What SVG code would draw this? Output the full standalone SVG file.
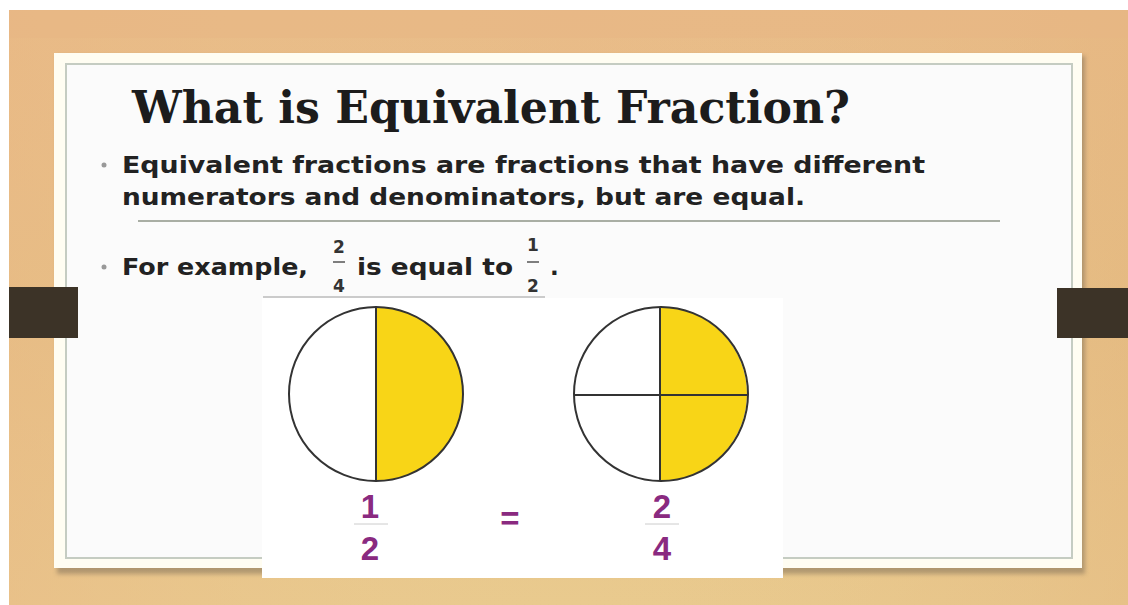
<svg xmlns="http://www.w3.org/2000/svg" width="1128" height="605" viewBox="0 0 1128 605">
<defs>
<linearGradient id="wood" x1="0" y1="0" x2="0" y2="1">
<stop offset="0" stop-color="#e9bb88"/>
<stop offset="0.5" stop-color="#e6c086"/>
<stop offset="1" stop-color="#e9ca8e"/>
</linearGradient>
<linearGradient id="woodH" x1="0" y1="0" x2="1" y2="0">
<stop offset="0" stop-color="#e9b884" stop-opacity="0.5"/>
<stop offset="0.5" stop-color="#e8c890" stop-opacity="0"/>
<stop offset="1" stop-color="#e3b37c" stop-opacity="0.4"/>
</linearGradient>
<filter id="sh" x="-5%" y="-5%" width="110%" height="110%">
<feGaussianBlur stdDeviation="2"/>
</filter>
<style>
.title{font-family:"DejaVu Serif","Liberation Serif",serif;font-weight:bold;font-size:45px;fill:#1c1c1c}
.body{font-family:"DejaVu Sans","Verdana",sans-serif;font-weight:bold;font-size:23px;fill:#222}
.frac{font-family:"DejaVu Sans",sans-serif;font-weight:bold;font-size:17px;fill:#333}
.big{font-family:"Liberation Sans",Arial,sans-serif;font-weight:bold;font-size:33px;fill:#8a2a80}
.rule{stroke:#a9aea4;stroke-width:2}
.circ{stroke:#333;stroke-width:2;fill:none}
.div{stroke:#333;stroke-width:2}
.yel{fill:#f8d517}
.bar{fill:#3c3327}
</style>
</defs>
<rect x="0" y="0" width="1128" height="605" fill="#ffffff"/>
<g id="background">
<rect x="9" y="10" width="1119" height="595" fill="url(#wood)"/>
<rect x="9" y="10" width="1119" height="595" fill="url(#woodH)"/>
<rect x="9" y="10" width="1119" height="28" fill="#e8b584" opacity="0.5"/>
</g>
<g id="board">
<rect x="57" y="56" width="1028" height="518" fill="#7a6a55" opacity="0.5" filter="url(#sh)"/>
<rect x="54" y="53" width="1028" height="515" fill="#fffdf2"/>
<rect x="66" y="64" width="1006" height="494" fill="#fbfbfb" stroke="#c5ccc2" stroke-width="2"/>
</g>
<g id="bars">
<rect class="bar" x="9" y="287" width="69" height="51"/>
<rect class="bar" x="1057" y="288" width="71" height="50"/>
</g>
<g id="title">
<text class="title" x="132" y="123" textLength="718" lengthAdjust="spacingAndGlyphs">What is Equivalent Fraction?</text>
</g>
<g id="bullet1">
<circle cx="104" cy="165" r="2.5" fill="#999"/>
<text class="body" x="122" y="173" textLength="803" lengthAdjust="spacingAndGlyphs">Equivalent fractions are fractions that have different</text>
<text class="body" x="122" y="205" textLength="683" lengthAdjust="spacingAndGlyphs">numerators and denominators, but are equal.</text>
<line class="rule" x1="138" y1="221" x2="1000" y2="221"/>
</g>
<g id="bullet2">
<circle cx="104" cy="267" r="2.5" fill="#999"/>
<text class="body" x="122" y="275" textLength="186" lengthAdjust="spacingAndGlyphs">For example,</text>
<text class="frac" x="339" y="253" text-anchor="middle">2</text>
<line x1="333" y1="262" x2="345" y2="262" stroke="#555" stroke-width="1.5"/>
<text class="frac" x="339" y="292" text-anchor="middle">4</text>
<text class="body" x="357" y="275" textLength="156" lengthAdjust="spacingAndGlyphs">is equal to</text>
<text class="frac" x="533" y="251" text-anchor="middle">1</text>
<line x1="527" y1="262" x2="539" y2="262" stroke="#555" stroke-width="1.5"/>
<text class="frac" x="533" y="292" text-anchor="middle">2</text>
<text class="body" x="550" y="275">.</text>
<line x1="263" y1="297" x2="545" y2="297" stroke="#bbb" stroke-width="1.5"/>
</g>
<g id="picture">
<rect x="262" y="298" width="521" height="280" fill="#ffffff"/>
</g>
<g id="circle-half">
<path class="yel" d="M376 307 A87 87 0 0 1 376 481 Z"/>
<circle class="circ" cx="376" cy="394" r="87"/>
<line class="div" x1="376" y1="307" x2="376" y2="481"/>
</g>
<g id="circle-quarters">
<path class="yel" d="M660 307 A87 87 0 0 1 660 481 Z"/>
<circle class="circ" cx="661" cy="394" r="87"/>
<line class="div" x1="660" y1="307" x2="660" y2="481"/>
<line class="div" x1="574" y1="395" x2="748" y2="395"/>
</g>
<g id="equation">
<text class="big" x="370" y="518" text-anchor="middle">1</text>
<line x1="354" y1="524" x2="388" y2="524" stroke="#ccc" stroke-width="1"/>
<text class="big" x="370" y="560" text-anchor="middle">2</text>
<text class="big" x="510" y="530" text-anchor="middle">=</text>
<text class="big" x="662" y="518" text-anchor="middle">2</text>
<line x1="645" y1="524" x2="679" y2="524" stroke="#ccc" stroke-width="1"/>
<text class="big" x="662" y="560" text-anchor="middle">4</text>
</g>
</svg>
